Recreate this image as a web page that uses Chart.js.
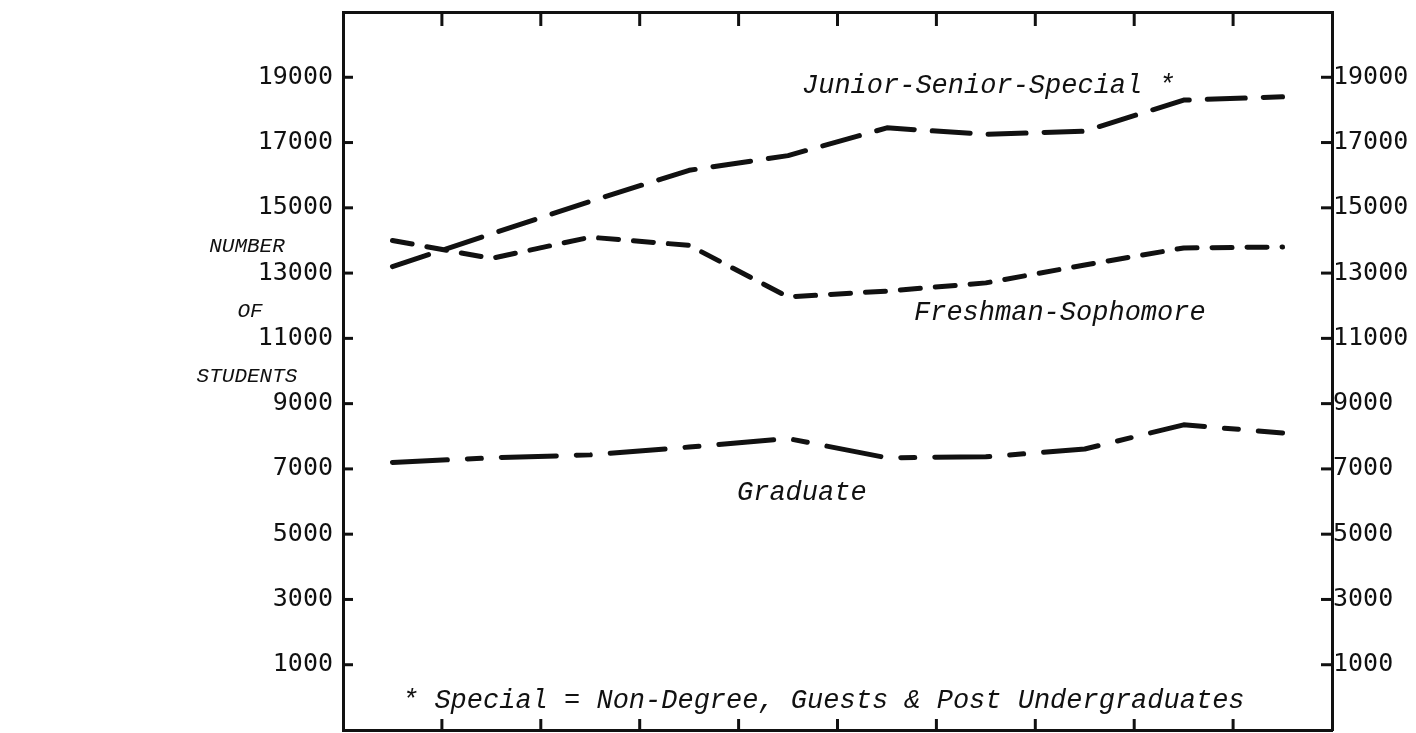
<!DOCTYPE html>
<html>
<head>
<meta charset="utf-8">
<title>Number of Students</title>
<script src="https://cdn.jsdelivr.net/npm/chart.js@4.4.0/dist/chart.umd.min.js"></script>
<style>
  html, body { margin: 0; padding: 0; background: #fff; }
  #wrap { width: 1416px; height: 733px; position: relative; }
</style>
</head>
<body>
<div id="wrap"><canvas id="chart-estudiantes"></canvas></div>
<script>
// periodos (no etiquetados en el grafico)
const periodos = ['1', '2', '3', '4', '5', '6', '7', '8', '9', '10'];

const juniorSeniorSpecial = [13200, 14200, 15200, 16150, 16600, 17450, 17250, 17350, 18300, 18400];
const freshmanSophomore   = [14000, 13450, 14100, 13850, 12270, 12450, 12700, 13250, 13770, 13800];
const graduate            = [7200, 7340, 7430, 7670, 7930, 7340, 7370, 7610, 8350, 8100];

const yTicks = [1000, 3000, 5000, 7000, 9000, 11000, 13000, 15000, 17000, 19000];
const yMin = -1000;
const yMax = 21000;

const tinta = '#111';
const fuenteTexto = 'italic 27px "Liberation Mono", monospace';
const fuenteTitulo = 'italic 21px "Liberation Mono", monospace';

function raya(ctx, x1, y1, x2, y2) {
  ctx.beginPath();
  ctx.moveTo(x1, y1);
  ctx.lineTo(x2, y2);
  ctx.stroke();
}

// marcas hacia dentro del marco
const marcasInternas = {
  id: 'marcasInternas',
  afterDraw(chart) {
    const { ctx, chartArea: a, scales } = chart;
    ctx.save();
    ctx.strokeStyle = tinta;
    ctx.lineWidth = 3;
    const x = scales.x;
    const paso = x.getPixelForValue(1) - x.getPixelForValue(0);
    for (let i = 1; i < periodos.length; i++) {
      const px = x.getPixelForValue(i) - paso / 2;
      raya(ctx, px, a.top, px, a.top + 14);
      raya(ctx, px, a.bottom, px, a.bottom - 11);
    }
    yTicks.forEach(v => {
      const py = scales.y.getPixelForValue(v);
      raya(ctx, a.left, py, a.left + 10, py);
      raya(ctx, a.right - 11, py, a.right, py);
    });
    ctx.restore();
  }
};

const textos = {
  id: 'textos',
  afterDraw(chart) {
    const ctx = chart.ctx;
    ctx.save();
    ctx.fillStyle = tinta;
    ctx.textBaseline = 'alphabetic';
    ctx.font = fuenteTexto;
    ctx.textAlign = 'left';
    ctx.fillText('Junior-Senior-Special *', 802, 93);
    ctx.fillText('Freshman-Sophomore', 914, 320);
    ctx.fillText('Graduate', 737, 500);
    ctx.fillText('* Special = Non-Degree, Guests & Post Undergraduates', 402, 708);
    ctx.font = fuenteTitulo;
    ctx.textAlign = 'center';
    ctx.fillText('NUMBER', 247, 252);
    ctx.fillText('OF', 250, 317);
    ctx.fillText('STUDENTS', 247, 382);
    ctx.restore();
  }
};

function serie(label, data, dash) {
  return {
    label,
    data,
    borderColor: tinta,
    borderWidth: 5,
    borderDash: dash,
    borderCapStyle: 'round',
    borderJoinStyle: 'round',
    pointRadius: 0,
    tension: 0,
    fill: false
  };
}

const ejeY = (pos) => ({
  type: 'linear',
  position: pos,
  min: yMin,
  max: yMax,
  afterBuildTicks: s => { s.ticks = yTicks.map(v => ({ value: v })); },
  afterFit: s => {
    s.width = pos === 'left' ? 343 : 84;
    s.paddingTop = 0;
    s.paddingBottom = 0;
  },
  grid: { display: true, drawOnChartArea: false, drawTicks: false },
  border: { display: true, color: tinta, width: 3 },
  ticks: {
    color: tinta,
    font: { family: '"DejaVu Sans Mono", monospace', size: 25 },
    padding: pos === 'left' ? 10 : 1,
    callback: v => String(v)
  }
});

const ejeX = (pos, alto) => ({
  type: 'category',
  position: pos,
  offset: true,
  labels: periodos,
  afterFit: s => {
    s.height = alto;
    s.paddingLeft = 0;
    s.paddingRight = 0;
  },
  grid: { display: true, drawOnChartArea: false, drawTicks: false },
  border: { display: true, color: tinta, width: 3 },
  ticks: { display: false }
});

new Chart(document.getElementById('chart-estudiantes'), {
  type: 'line',
  data: {
    labels: periodos,
    datasets: [
      serie('Junior-Senior-Special', juniorSeniorSpecial, [38, 18]),
      serie('Freshman-Sophomore', freshmanSophomore, [20, 15]),
      serie('Graduate', graduate, [55, 20, 14, 20])
    ]
  },
  options: {
    responsive: true,
    maintainAspectRatio: false,
    animation: false,
    layout: { padding: 0 },
    plugins: {
      legend: { display: false },
      tooltip: { enabled: false }
    },
    scales: {
      x: ejeX('bottom', 3),
      x2: ejeX('top', 12),
      y: ejeY('left'),
      y2: ejeY('right')
    }
  },
  plugins: [marcasInternas, textos]
});
</script>
</body>
</html>
